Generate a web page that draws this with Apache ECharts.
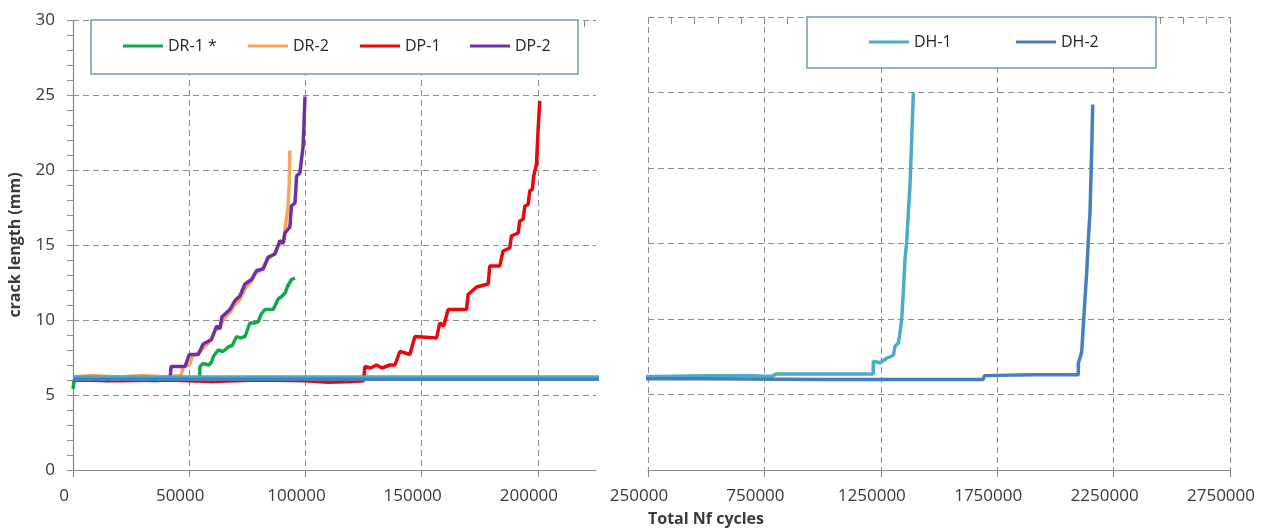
<!DOCTYPE html>
<html><head><meta charset="utf-8">
<script src="https://cdn.jsdelivr.net/npm/echarts@6/dist/echarts.min.js"></script>
<style>html,body{margin:0;padding:0;background:#fff}#c{width:1266px;height:531px}</style>
</head><body><div id="c"></div>
<script>
// ---- data (x = total Nf cycles, y = crack length mm) ----
const seriesNames = ['DR-1 *', 'DR-2', 'DP-1', 'DP-2', 'DH-1', 'DH-2'];
const dr1 = [[0,5.4],[500,6.0],[5000,6.05],[15000,5.95],[25000,6.05],[35000,5.95],[45000,6.05],[52000,5.95],[54500,6.05],[54600,6.9],[56000,7.1],[58500,7.0],[59600,7.2],[60500,7.6],[62500,8.0],[64500,7.9],[66800,8.2],[68500,8.3],[70400,8.9],[72000,8.8],[74000,8.9],[76100,9.8],[78000,9.8],[79700,9.9],[81000,10.4],[82600,10.7],[86100,10.7],[88300,11.4],[90000,11.6],[91200,11.8],[92500,12.3],[94000,12.7],[95500,12.8]];
const dr2 = [[0,6.2],[8000,6.3],[20000,6.2],[30000,6.3],[40000,6.2],[46500,6.3],[47500,6.9],[50000,7.0],[51500,7.6],[54000,7.8],[56500,8.2],[59000,8.6],[61000,9.3],[63000,9.5],[65000,10.1],[67500,10.5],[69500,11.0],[72000,11.4],[74000,12.1],[76500,12.5],[78500,13.1],[81500,13.4],[83500,14.0],[86500,14.4],[88500,15.0],[90500,15.2],[91500,16.4],[92500,17.5],[93000,19.0],[93300,21.3]];
const dp1 = [[0,6.0],[20000,5.95],[40000,6.0],[60000,5.9],[80000,6.0],[100000,5.95],[110000,5.85],[120000,5.9],[125000,5.95],[125600,6.9],[128000,6.8],[130600,7.0],[133000,6.8],[136300,7.0],[138500,7.0],[140600,7.9],[143000,7.8],[144900,7.7],[147100,8.9],[156400,8.8],[157800,9.8],[159500,9.6],[161400,10.7],[169300,10.7],[170000,11.7],[173600,12.2],[178600,12.4],[179300,13.6],[183600,13.6],[185000,14.6],[187900,14.8],[188600,15.6],[191500,15.8],[192200,16.6],[193600,16.7],[194400,17.6],[195800,17.7],[196500,18.6],[197600,18.7],[198200,19.6],[199400,20.4],[200100,22.7],[200800,24.6]];
const dp2 = [[0,6.05],[10000,6.0],[20000,6.05],[30000,6.0],[41500,6.05],[42000,6.5],[42200,6.9],[48200,6.9],[50000,7.7],[53900,7.7],[56000,8.4],[59600,8.7],[61800,9.6],[63200,9.4],[64000,10.2],[67500,10.7],[69700,11.3],[71800,11.6],[74000,12.4],[76800,12.7],[79000,13.3],[81800,13.4],[84000,14.2],[86900,14.4],[89000,15.3],[90400,15.1],[91200,15.8],[93300,16.2],[94000,17.6],[95500,17.8],[96200,19.6],[97600,19.8],[98300,20.7],[99000,21.6],[99800,24.9]];
const dh1 = [[0,6.2],[100000,6.2],[200000,6.2],[300000,6.2],[500000,6.25],[700000,6.25],[780000,6.2],[800000,6.35],[1000000,6.35],[1217000,6.35],[1218000,7.2],[1246700,7.1],[1275400,7.4],[1304000,7.6],[1311100,8.2],[1325400,8.4],[1332600,9.1],[1339800,10.0],[1346900,11.8],[1354100,14.0],[1361300,15.1],[1368400,17.1],[1375600,18.9],[1382800,21.9],[1389900,25.0]];
const dh2 = [[0,6.05],[200000,6.05],[500000,6.05],[1000000,6.0],[1500000,6.0],[1690000,6.0],[1695000,6.25],[1900000,6.3],[2098000,6.3],[2099000,7.1],[2113000,7.8],[2120000,9.6],[2127000,11.3],[2134500,13.1],[2141600,15.3],[2148800,17.1],[2156000,21.2],[2160300,24.2]];

const xTicksLeft = [0, 50000, 100000, 150000, 200000];
const xMinorLeft = [10000,20000,30000,40000,60000,70000,80000,90000,110000,120000,130000,140000,160000,170000,180000,190000,210000,220000];
const xTicksRight = [250000, 750000, 1250000, 1750000, 2250000, 2750000];
const xMinorRight = [350000,450000,550000,650000,850000,950000,1050000,1150000,1350000,1450000,1550000,1650000,1850000,1950000,2050000,2150000,2350000,2450000,2550000,2650000];
const yTicks = [0, 5, 10, 15, 20, 25, 30];

const colors = {'DR-1 *':'#16a64c','DR-2':'#f5a65e','DP-1':'#e8070d','DP-2':'#7030a0','DH-1':'#4bacc6','DH-2':'#4a7ebb'};
const font = '"Open Sans", "Noto Sans", sans-serif';
const axisGray = '#8a8a8a';
const textCol = '#3a3a3a';
const dash = {type:[6,4], color:'#8c8c8c', width:1};
const plain = v => String(v);

function mainX(grid, min, max, ticks) {
  return {type:'value', gridIndex:grid, min:min, max:max,
    axisLine:{show:true, onZero:false, lineStyle:{color:axisGray, width:1.2}},
    axisTick:{show:true, customValues:ticks, length:7, inside:false, lineStyle:{color:axisGray}},
    axisLabel:{customValues:ticks, formatter:plain, margin:18, fontSize:17, color:textCol, fontFamily:font, padding:[0,18,0,0]},
    splitLine:{show:true, lineStyle:dash}};
}
function innerX(grid, min, max, ticks) {
  return {type:'value', gridIndex:grid, min:min, max:max,
    axisLine:{show:false, onZero:false},
    axisTick:{show:true, customValues:ticks, length:7, inside:true, lineStyle:{color:axisGray}},
    axisLabel:{show:false}, splitLine:{show:false}};
}
function line(name, data, xi, yi, w) {
  return {type:'line', name:name, data:data, xAxisIndex:xi, yAxisIndex:yi,
    showSymbol:false, symbol:'none', clip:true,
    lineStyle:{width:w || 3.5, color:colors[name]}, itemStyle:{color:colors[name]}};
}
function leg(name, left, top) {
  return {data:[name], left:left, top:top, padding:0, icon:'rect', itemWidth:40, itemHeight:3, itemGap:4,
    textStyle:{fontSize:16, color:'#262626', fontFamily:font}};
}

const chart = echarts.init(document.getElementById('c'), null, {renderer:'canvas'});
chart.setOption({
  animation:false,
  backgroundColor:'#fff',
  title:{text:'Total Nf cycles', left:648, top:511, padding:0,
    textStyle:{fontSize:16, fontWeight:'bold', color:textCol, fontFamily:font}},
  grid:[
    {left:73, top:20, width:523, height:450},
    {left:648, top:17, width:582, height:453}
  ],
  xAxis:[
    mainX(0, 0, 225000, xTicksLeft),
    innerX(0, 0, 225000, xTicksLeft.concat(xMinorLeft)),
    mainX(1, 250000, 2750000, xTicksRight),
    innerX(1, 250000, 2750000, xTicksRight.concat(xMinorRight))
  ],
  yAxis:[
    {type:'value', gridIndex:0, min:0, max:30, interval:5,
      name:'crack length (mm)', nameLocation:'middle', nameGap:50,
      nameTextStyle:{fontSize:16, fontWeight:'bold', color:textCol, fontFamily:font},
      axisLine:{show:true, lineStyle:{color:axisGray, width:1.2}},
      axisTick:{show:true, length:6, lineStyle:{color:axisGray}},
      minorTick:{show:true, splitNumber:5, length:6, lineStyle:{color:axisGray}},
      axisLabel:{margin:18, fontSize:17, color:textCol, fontFamily:font},
      splitLine:{show:true, lineStyle:dash}},
    {type:'value', gridIndex:1, min:0, max:30, interval:5,
      axisLine:{show:false}, axisTick:{show:false}, axisLabel:{show:false},
      splitLine:{show:true, lineStyle:dash}}
  ],
  legend:[
    leg('DR-1 *', 123, 38), leg('DR-2', 248, 38), leg('DP-1', 360, 38), leg('DP-2', 470, 38),
    leg('DH-1', 869, 34), leg('DH-2', 1016, 34)
  ],
  graphic:[
    {type:'rect', z:3, shape:{x:91, y:20, width:487, height:54}, style:{fill:'#fff', stroke:'#6f95c8', lineWidth:1.5}},
    {type:'rect', z:3, shape:{x:807, y:17, width:349, height:51}, style:{fill:'#fff', stroke:'#6f95c8', lineWidth:1.5}}
  ],
  series:[
    line('DR-1 *', dr1, 0, 0),
    line('DR-2', dr2, 0, 0),
    line('DP-1', dp1, 0, 0),
    line('DP-2', dp2, 0, 0),
    line('DH-1', dh1, 0, 0, 3.5),
    line('DH-2', dh2, 0, 0, 3.5),
    line('DH-1', dh1, 2, 1, 3.5),
    line('DH-2', dh2, 2, 1, 3.5)
  ]
});
</script>
</body></html>
